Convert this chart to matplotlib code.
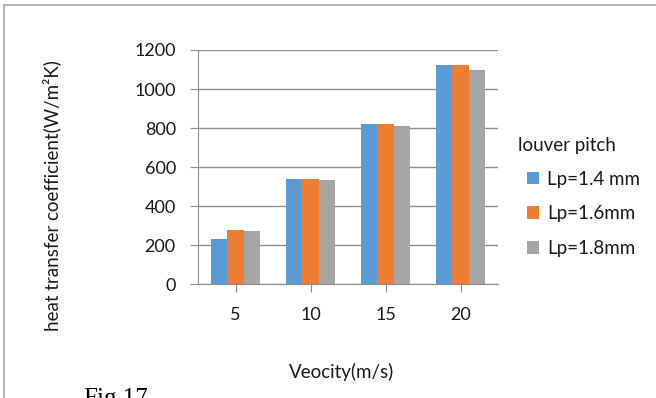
import matplotlib.pyplot as plt
from matplotlib.patches import Rectangle
import numpy as np

# dados
velocidades = ['5', '10', '15', '20']
lp14 = [234, 540, 819, 1121]
lp16 = [280, 540, 819, 1121]
lp18 = [275, 532, 809, 1099]
series = ['Lp=1.4 mm', 'Lp=1.6mm', 'Lp=1.8mm']
cores = ['#5B9BD5', '#ED7D31', '#A5A5A5']

plt.rcParams['font.family'] = ['Lato', 'DejaVu Sans']
texto = '#1a1a1a'
cinza = '#8c8c8c'

fig = plt.figure(figsize=(6.56, 3.98), dpi=100)
ax = fig.add_axes([198/656, 1 - 284.3/398, 300/656, 234.3/398])

x = np.arange(len(velocidades))
w = 0.222
for k, (vals, cor, nome) in enumerate(zip([lp14, lp16, lp18], cores, series)):
    ax.bar(x + (k - 1) * w, vals, width=w, color=cor, label=nome, zorder=3)

ax.set_xlim(-0.5, 3.5)
ax.set_ylim(0, 1200)
ax.set_yticks(range(0, 1201, 200))
ax.set_xticks(x)
ax.set_xticklabels(velocidades)
ax.grid(axis='y', color=cinza, lw=1, zorder=0)
ax.tick_params(axis='both', direction='out', length=6, color=cinza, pad=10,
               labelsize=13, labelcolor=texto)
for s in ['top', 'right']:
    ax.spines[s].set_visible(False)
for s in ['left', 'bottom']:
    ax.spines[s].set_color(cinza)

ax.set_xlabel('Veocity(m/s)', fontsize=13.5, color=texto)
ax.xaxis.set_label_coords(0.48, -0.335)
ax.set_ylabel('heat transfer coefficient(W/m²K)', fontsize=13.5, color=texto)
ax.yaxis.set_label_coords(-0.455, 0.377)

# título da legenda separado, as entradas ficam recuadas
fig.text(518/656, 1 - 145/398, 'louver pitch', fontsize=13.5, color=texto,
         ha='left', va='center')
leg = ax.legend(loc='upper left', bbox_to_anchor=(1.097, 0.485),
                frameon=False, fontsize=13.5,
                borderpad=0, borderaxespad=0,
                handlelength=0.65, handleheight=0.65, handletextpad=0.4,
                labelspacing=0.94)
for t in leg.get_texts():
    t.set_color(texto)

# moldura externa do gráfico
fig.patches.append(Rectangle((4/656, -0.1), 1.2, 1 - 5/398 + 0.1, transform=fig.transFigure,
                             fill=False, edgecolor='#a8a8a8', lw=1.2))

fig.text(83/656, 1 - 388/398, 'Fig.17', family='Liberation Serif', fontsize=18,
         va='top', ha='left', color='black')

fig.savefig('out.png', dpi=100)
